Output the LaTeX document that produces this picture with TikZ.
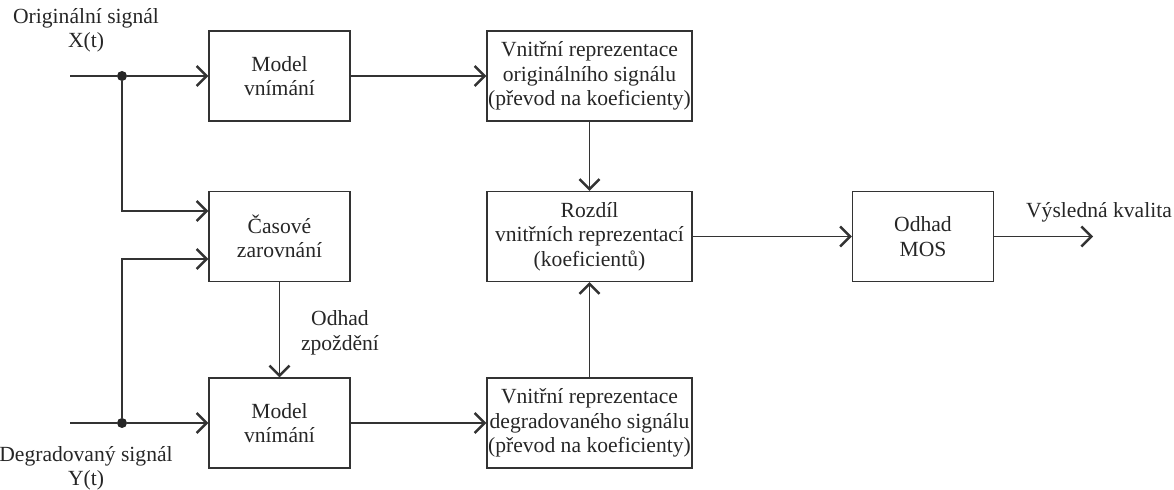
\documentclass[tikz,border=0pt]{standalone}
\usepackage{fontspec}
\setmainfont{Liberation Serif}
\usetikzlibrary{arrows.meta}
\begin{document}
\begin{tikzpicture}[x=0.5pt,y=-0.5pt,
  every node/.style={font=\fontsize{10.8}{12.2}\selectfont, text=black!85},
  blk/.style={draw=black!80, line width=0.7pt, align=center, inner sep=0pt,
              minimum width=70.5pt, minimum height=45pt},
  wblk/.style={blk, minimum width=102.5pt},
  lbl/.style={align=center, inner sep=0pt},
  conn/.style={draw=black!80, line width=0.7pt},
  arr/.style={conn, -{Straight Barb[length=5pt,width=10pt,line width=1.2pt]}},
  jdot/.style={circle, fill=black!85, inner sep=0pt, minimum size=5pt}]
\useasboundingbox (0,0) rectangle (1174,490);

% blocks
\node[blk]  (mv1) at (279.5,76)  {Model\\vnímání};
\node[wblk] (vr1) at (589.5,76)  {Vnitřní reprezentace\\originálního signálu\\(převod na koeficienty)};
\node[blk]  (cz)  at (279.5,236.5) {Časové\\zarovnání};
\node[wblk] (rz)  at (589.5,236.5) {Rozdíl\\vnitřních reprezentací\\(koeficientů)};
\node[blk]  (mos) at (923,236.5) {Odhad\\MOS};
\node[blk]  (mv2) at (279.5,423) {Model\\vnímání};
\node[wblk] (vr2) at (589.5,423) {Vnitřní reprezentace\\degradovaného signálu\\(převod na koeficienty)};

% labels
\node[lbl] (lx) at (86,30) {Originální signál\\X(t)};
\node[lbl] (ly) at (86,468) {Degradovaný signál\\Y(t)};
\node[lbl] (lo) at (1099,212) {Výsledná kvalita};
\node[lbl] (lz) at (340,333) {Odhad\\zpoždění};

% junctions and free ends
\coordinate (in1) at (70,76);
\coordinate (in2) at (70,423);
\node[jdot] (d1) at (122,76) {};
\node[jdot] (d2) at (122,423) {};
\coordinate (c1) at (122,211);
\coordinate (c2) at (122,259);
\coordinate (out) at (1093,236.5);

% connectors
\draw[conn] (in1) -- (d1);
\draw[arr] (d1) -- (mv1.west);
\draw[conn] (in2) -- (d2);
\draw[arr] (d2) -- (mv2.west);
\draw[arr] (d1) -- (c1) -- (cz.west |- c1);
\draw[arr] (d2) -- (c2) -- (cz.west |- c2);
\draw[arr] (mv1) -- (vr1);
\draw[arr] (mv2) -- (vr2);
\draw[arr] (vr1) -- (rz);
\draw[arr] (vr2) -- (rz);
\draw[arr] (cz) -- (mv2);
\draw[arr] (rz) -- (mos);
\draw[arr] (mos) -- (out);
\end{tikzpicture}
\end{document}
